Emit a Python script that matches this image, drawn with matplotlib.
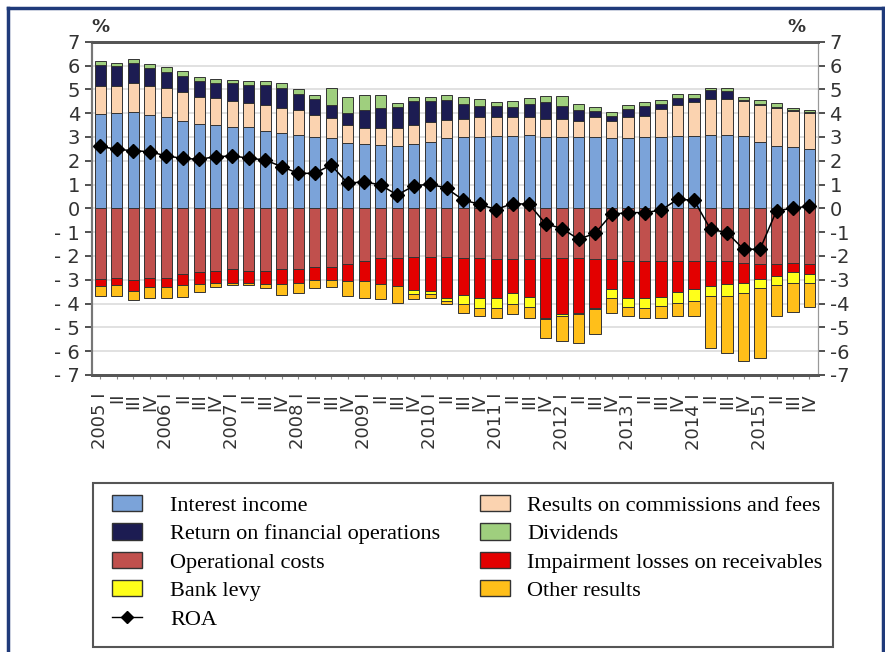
import numpy as np
import matplotlib.pyplot as plt
from matplotlib.patches import Patch, Rectangle
from matplotlib.lines import Line2D

### dane kwartalne 2005 I - 2015 IV (w % aktywow)
years = [str(y) for y in range(2005, 2016)]
quarters = ["I", "II", "III", "IV"]
labels = []
for y in years:
    for q in quarters:
        labels.append(y + " " + q if q == "I" else q)

interest = [3.96, 4.00, 4.06, 3.92, 3.85, 3.68, 3.54, 3.50, 3.43, 3.40, 3.25,
            3.15, 3.08, 3.00, 2.94, 2.73, 2.70, 2.66, 2.62, 2.70, 2.80, 2.94,
            3.00, 3.00, 3.03, 3.03, 3.07, 3.00, 3.00, 3.00, 3.00, 2.94, 2.94,
            3.00, 3.00, 3.03, 3.03, 3.07, 3.07, 3.03, 2.78, 2.60, 2.57, 2.50]
commissions = [1.18, 1.14, 1.22, 1.22, 1.21, 1.22, 1.15, 1.12, 1.09, 1.01, 1.09,
               1.05, 1.05, 0.92, 0.84, 0.77, 0.69, 0.70, 0.74, 0.80, 0.84, 0.77,
               0.75, 0.82, 0.79, 0.79, 0.77, 0.75, 0.75, 0.68, 0.82, 0.74, 0.88,
               0.90, 1.18, 1.33, 1.43, 1.53, 1.53, 1.49, 1.58, 1.62, 1.51, 1.50]
fin_ops = [0.88, 0.84, 0.82, 0.74, 0.68, 0.66, 0.66, 0.63, 0.73, 0.77, 0.84,
           0.84, 0.67, 0.66, 0.56, 0.52, 0.74, 0.84, 0.88, 1.00, 0.86, 0.84,
           0.65, 0.46, 0.46, 0.43, 0.56, 0.71, 0.53, 0.45, 0.28, 0.22, 0.36,
           0.42, 0.22, 0.29, 0.19, 0.36, 0.33, 0.04, 0.04, 0.05, 0.04, 0.05]
dividends = [0.18, 0.14, 0.19, 0.18, 0.18, 0.20, 0.18, 0.17, 0.14, 0.17, 0.17,
             0.21, 0.20, 0.18, 0.70, 0.67, 0.63, 0.56, 0.17, 0.19, 0.19, 0.21,
             0.28, 0.30, 0.18, 0.25, 0.25, 0.24, 0.42, 0.25, 0.14, 0.14, 0.18,
             0.14, 0.16, 0.15, 0.17, 0.09, 0.12, 0.12, 0.16, 0.15, 0.08, 0.10]
op_costs = [-2.98, -2.94, -3.01, -2.94, -2.94, -2.75, -2.66, -2.63, -2.56, -2.63, -2.63,
            -2.56, -2.56, -2.46, -2.46, -2.35, -2.21, -2.10, -2.07, -2.04, -2.04, -2.04,
            -2.07, -2.07, -2.14, -2.14, -2.14, -2.07, -2.07, -2.07, -2.14, -2.14, -2.21,
            -2.21, -2.21, -2.21, -2.21, -2.21, -2.21, -2.28, -2.35, -2.35, -2.28, -2.35]
impairment = [-0.28, -0.30, -0.46, -0.36, -0.36, -0.47, -0.51, -0.49, -0.56, -0.49, -0.56,
              -0.63, -0.56, -0.55, -0.55, -0.70, -0.84, -1.09, -1.19, -1.41, -1.43, -1.71,
              -1.58, -1.68, -1.61, -1.40, -1.58, -2.52, -2.35, -2.31, -2.03, -1.26, -1.54,
              -1.54, -1.51, -1.29, -1.19, -1.05, -0.98, -0.84, -0.63, -0.49, -0.38, -0.39]
bank_levy = [0, 0, 0, 0, 0, 0, 0, 0, 0, 0, 0,
             0, 0, 0, 0, 0, 0, 0, 0, -0.15, -0.15, -0.15,
             -0.35, -0.42, -0.42, -0.49, -0.42, -0.05, -0.10, -0.05, -0.05, -0.35, -0.39,
             -0.42, -0.38, -0.46, -0.49, -0.42, -0.49, -0.42, -0.38, -0.38, -0.46, -0.38]
other = [-0.42, -0.44, -0.40, -0.45, -0.45, -0.49, -0.33, -0.18, -0.10, -0.10, -0.17,
         -0.45, -0.42, -0.35, -0.29, -0.63, -0.70, -0.63, -0.70, -0.20, -0.13, -0.13,
         -0.38, -0.35, -0.42, -0.39, -0.45, -0.79, -1.05, -1.21, -1.07, -0.63, -0.38,
         -0.45, -0.49, -0.56, -0.63, -2.17, -2.38, -2.86, -2.91, -1.30, -1.22, -1.02]
roa = [2.60, 2.48, 2.42, 2.38, 2.20, 2.10, 2.06, 2.17, 2.20, 2.11, 2.03,
       1.75, 1.47, 1.47, 1.82, 1.05, 1.12, 0.98, 0.56, 0.94, 1.02, 0.84,
       0.35, 0.17, -0.05, 0.20, 0.17, -0.65, -0.85, -1.30, -1.05, -0.25, -0.18,
       -0.18, -0.08, 0.38, 0.34, -0.88, -1.02, -1.72, -1.72, -0.10, 0.00, 0.10]

pos_series = [("Interest income", interest, "#7ba3d9"),
              ("Results on commissions and fees", commissions, "#fbd3b0"),
              ("Return on financial operations", fin_ops, "#1c1c52"),
              ("Dividends", dividends, "#9fcf7e")]
neg_series = [("Operational costs", op_costs, "#c0504d"),
              ("Impairment losses on receivables", impairment, "#e30000"),
              ("Bank levy", bank_levy, "#ffff1a"),
              ("Other results", other, "#ffbf1a")]
colors = dict((n, c) for n, v, c in pos_series + neg_series)

x = np.arange(len(labels))
fig = plt.figure(figsize=(8.85, 6.52), dpi=100)
ax = fig.add_axes([0.104, 0.425, 0.82, 0.511])

ax.set_axisbelow(True)
ax.yaxis.grid(True, color="#dcdcdc", linewidth=1.2)

bottom = np.zeros(len(x))
for name, vals, col in pos_series:
    ax.bar(x, vals, 0.68, bottom=bottom, color=col, edgecolor="#333333", linewidth=0.7)
    bottom = bottom + np.array(vals)
bottom = np.zeros(len(x))
for name, vals, col in neg_series:
    ax.bar(x, vals, 0.68, bottom=bottom, color=col, edgecolor="#333333", linewidth=0.7)
    bottom = bottom + np.array(vals)

ax.plot(x, roa, color="black", linewidth=1.1, marker="D", markersize=7, zorder=5)

ax.set_xlim(-0.5, len(x) - 0.5)
ax.set_ylim(-7, 7)
ticks = np.arange(-7, 8)
ax.set_yticks(ticks)
ax.set_yticklabels([("- " + str(-t)) if t < 0 else str(t) for t in ticks])
ax.set_xticks(x)
ax.set_xticklabels(labels, rotation=90, fontsize=13, color="#333333")
ax.tick_params(axis="x", length=3, color="#888888", pad=10)
ax.tick_params(axis="y", labelsize=14, colors="#333333", length=5, width=1.2)

ax2 = ax.twinx()
ax2.set_ylim(-7, 7)
ax2.set_yticks(ticks)
ax2.set_yticklabels([str(t) for t in ticks])
ax2.tick_params(axis="y", labelsize=14, colors="#333333", length=5, width=1.2)

for a in (ax, ax2):
    a.spines["top"].set_color("#555555")
    a.spines["top"].set_linewidth(2)
    a.spines["bottom"].set_color("#555555")
    a.spines["bottom"].set_linewidth(2)
    a.spines["left"].set_color("#777777")
    a.spines["left"].set_linewidth(1.5)
    a.spines["right"].set_color("#999999")

fig.text(0.113, 0.951, "%", fontsize=13, color="#333333", fontweight="bold", ha="center")
fig.text(0.900, 0.951, "%", fontsize=13, color="#333333", fontweight="bold", ha="center")

### legenda - dwie kolumny osobno, wspolna ramka
def patch(name):
    return Patch(facecolor=colors[name], edgecolor="#333333", label=name)

left_handles = [patch("Interest income"), patch("Return on financial operations"),
                patch("Operational costs"), patch("Bank levy"),
                Line2D([0], [0], color="black", marker="D", markersize=6, linewidth=1, label="ROA")]
right_handles = [patch("Results on commissions and fees"), patch("Dividends"),
                 patch("Impairment losses on receivables"), patch("Other results")]

leg_kw = dict(frameon=False, prop={"family": "Liberation Serif", "size": 16},
              handlelength=1.35, handleheight=0.75, labelspacing=0.34,
              borderaxespad=0, borderpad=0)
leg1 = fig.legend(handles=left_handles, loc="upper left", bbox_to_anchor=(0.1266, 0.241),
                  handletextpad=1.26, **leg_kw)
leg2 = fig.legend(handles=right_handles, loc="upper left", bbox_to_anchor=(0.5424, 0.241),
                  handletextpad=0.77, **leg_kw)

fig.add_artist(Rectangle((0.105, 0.008), 0.836, 0.2515, transform=fig.transFigure,
                         fill=False, edgecolor="#555555", linewidth=1.5))

### ramka
for xs, ys in [([0.009, 0.009], [0.988, -0.1]), ([0.009, 0.998], [0.988, 0.988]),
               ([0.998, 0.998], [0.988, -0.1])]:
    fig.add_artist(Line2D(xs, ys, color="#1f3a7a", linewidth=2.5))

plt.savefig("out.png", dpi=100)
